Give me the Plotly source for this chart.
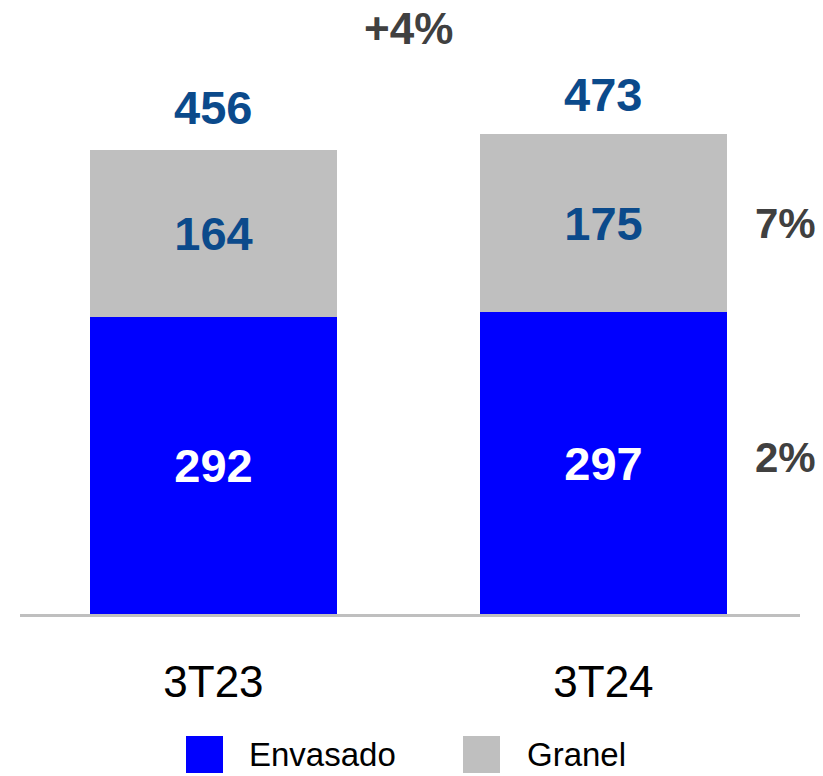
import plotly.graph_objects as go

# ---- data ----
categories = ["3T23", "3T24"]
series_names = ["Envasado", "Granel"]
envasado = [292, 297]
granel = [164, 175]
totals = [456, 473]
growth_total_label = "+4%"
growth_segment_labels = ["2%", "7%"]  # Envasado, Granel

# ---- styles ----
BLUE = "#0000FF"
GRAY = "#BFBFBF"
DARK_BLUE = "#0B4A8B"
TXT_GRAY = "#404040"
FONT = "Liberation Sans, Arial, sans-serif"

W, H = 823, 776
ML, MR, MT, MB = 20, 23, 0, 162
PLOT_W = W - ML - MR
PLOT_H = H - MT - MB
Y_MAX = 604


def px_x(px):
    return (px - ML) / PLOT_W


def px_y(py):
    return (MT + PLOT_H - py) / PLOT_H


fig = go.Figure()
fig.add_trace(go.Bar(
    x=categories, y=envasado, name=series_names[0],
    marker=dict(color=BLUE, line=dict(width=0)), width=0.633,
    text=[str(v) for v in envasado], textposition="inside",
    insidetextanchor="middle",
    textfont=dict(color="white", size=47, family=FONT, weight="bold"),
    showlegend=False,
))
fig.add_trace(go.Bar(
    x=categories, y=granel, name=series_names[1],
    marker=dict(color=GRAY, line=dict(width=0)), width=0.633,
    text=[str(v) for v in granel], textposition="inside",
    insidetextanchor="middle",
    textfont=dict(color=DARK_BLUE, size=47, family=FONT, weight="bold"),
    showlegend=False,
))

annotations = []
# totals
for c, t, ys in zip(categories, totals, [14, 10]):
    annotations.append(dict(
        x=c, y=t, xref="x", yref="y", text=str(t), showarrow=False,
        yanchor="bottom", yshift=ys,
        font=dict(color=DARK_BLUE, size=47, family=FONT, weight="bold"),
    ))
# total growth
annotations.append(dict(
    x=0.5, y=(PLOT_H - 28) / PLOT_H * Y_MAX, xref="x", yref="y",
    text=growth_total_label, showarrow=False,
    font=dict(color=TXT_GRAY, size=44, family=FONT, weight="bold"),
))
# segment growth
seg_mid = [envasado[1] / 2, envasado[1] + granel[1] / 2]
seg_shift = [6, 0]
for lab, ym, ys in zip(growth_segment_labels, seg_mid, seg_shift):
    annotations.append(dict(
        x=1.468, y=ym, xref="x", yref="y", text=lab, showarrow=False,
        yshift=ys,
        font=dict(color=TXT_GRAY, size=42, family=FONT, weight="bold"),
    ))

# custom legend
shapes = []
legend_items = [(series_names[0], BLUE, 186, 247), (series_names[1], GRAY, 463, 525)]
for name, col, bx, tx in legend_items:
    shapes.append(dict(
        type="rect", xref="paper", yref="paper",
        x0=px_x(bx), x1=px_x(bx + 37), y0=px_y(773), y1=px_y(736),
        fillcolor=col, line=dict(width=0),
    ))
    annotations.append(dict(
        x=px_x(tx), y=px_y(755), xref="paper", yref="paper", text=name,
        showarrow=False, xanchor="left", yanchor="middle",
        font=dict(color="black", size=33, family=FONT),
    ))

fig.update_layout(
    width=W, height=H,
    margin=dict(l=ML, r=MR, t=MT, b=MB),
    barmode="stack",
    plot_bgcolor="white", paper_bgcolor="white",
    annotations=annotations, shapes=shapes,
    showlegend=False,
    xaxis=dict(
        type="category", range=[-0.496, 1.504],
        showline=True, linecolor=GRAY, linewidth=3,
        showgrid=False, zeroline=False, ticks="",
        tickfont=dict(color="black", size=44, family=FONT),
        ticklabelstandoff=27,
    ),
    yaxis=dict(
        range=[0, Y_MAX], visible=False, showgrid=False, zeroline=False,
    ),
    uniformtext=dict(mode=False),
)

fig.write_html(
    "out.html",
    config={"displayModeBar": False},
    post_script="document.body.style.margin='0';document.body.style.overflow='hidden';",
)
